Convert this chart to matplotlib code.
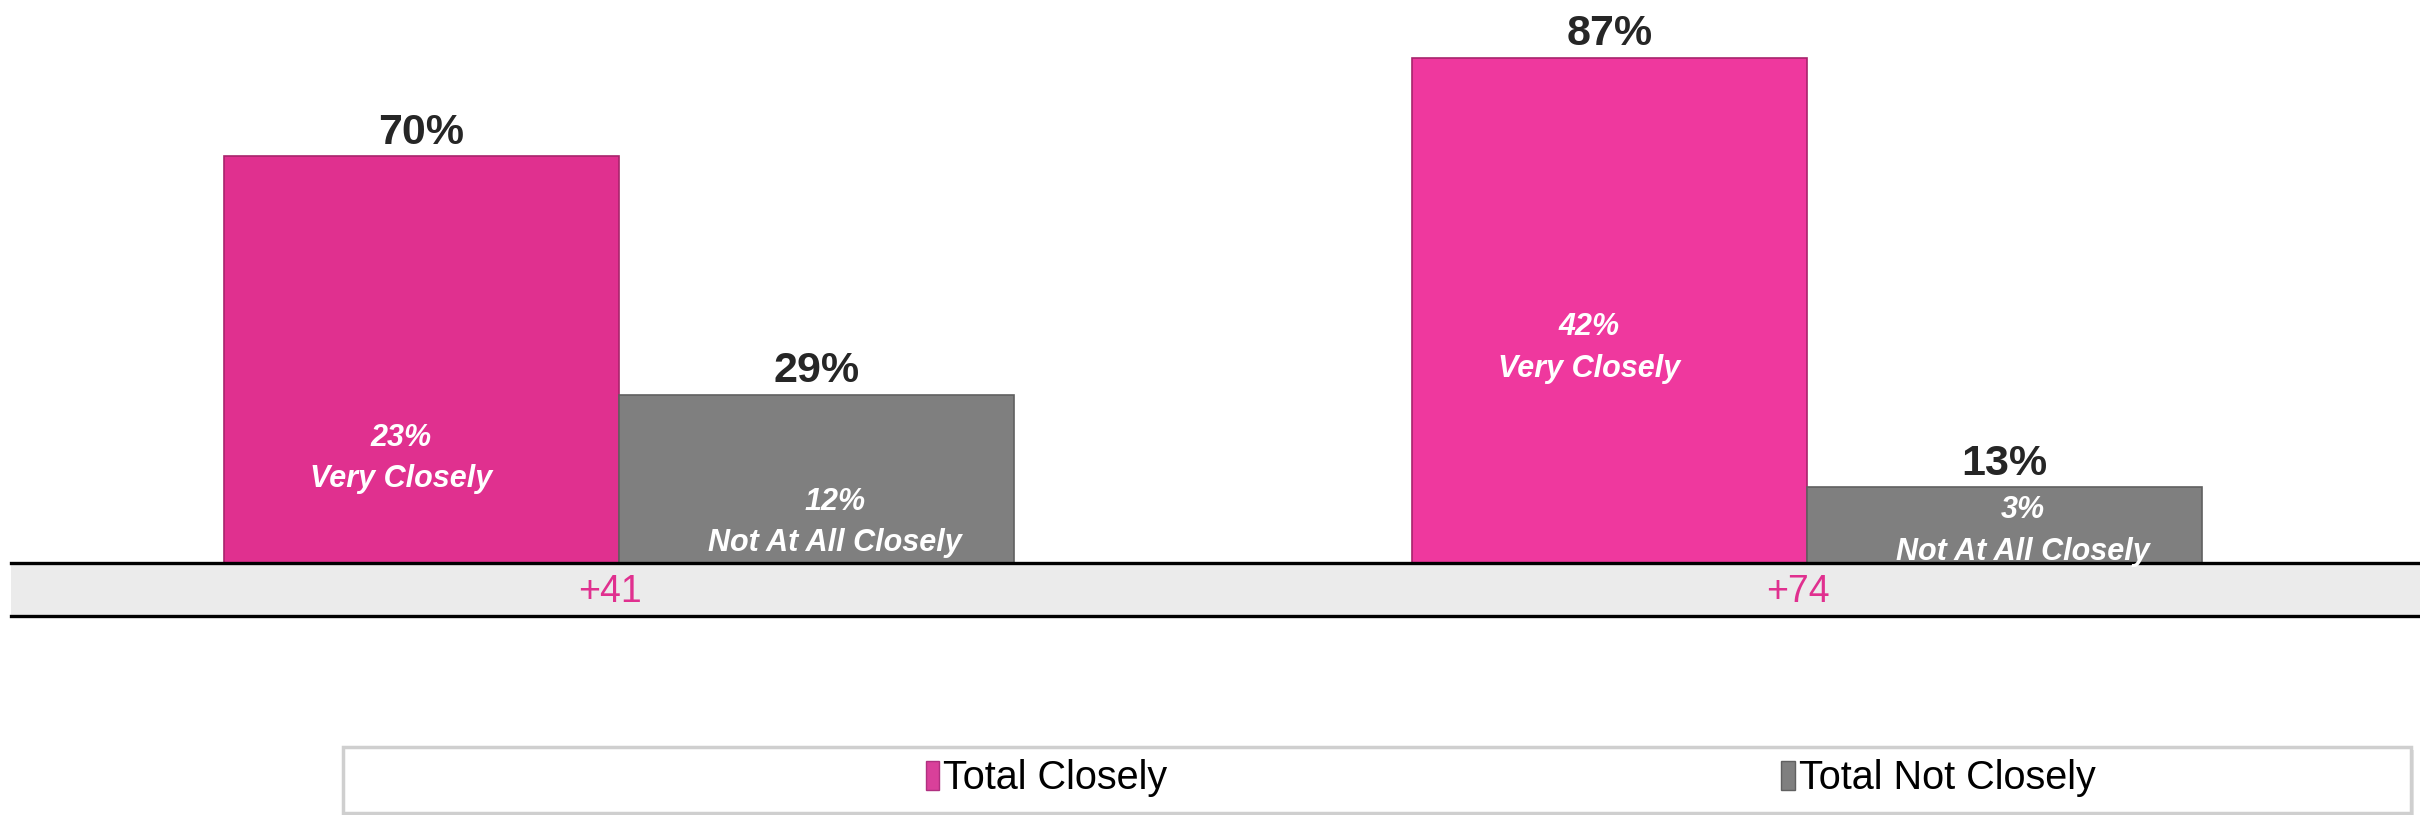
import numpy as np
import matplotlib.pyplot as plt
from matplotlib.patches import Rectangle, Patch
from matplotlib.lines import Line2D

# data
groups = ["Group 1", "Group 2"]
total_closely = [70, 87]
total_not_closely = [29, 13]
very_closely = [23, 42]
not_at_all_closely = [12, 3]
series_names = ["Total Closely", "Total Not Closely"]

pink = ["#e0308f", "#ef389e"]
grey = "#7f7f7f"

plt.rcParams["font.family"] = ["Liberation Sans", "DejaVu Sans"]

fig = plt.figure(figsize=(24.2, 8.15), dpi=100)
W, H = 2420, 815
ax = fig.add_axes([11 / W, (H - 563) / H, 2404 / W, 563 / H])

x = np.arange(len(groups))
w = 0.3325
b1 = ax.bar(x - w / 2, total_closely, w, color=pink, edgecolor="#a8246c",
            linewidth=1.2, zorder=2)
b2 = ax.bar(x + w / 2, total_not_closely, w, color=grey, edgecolor="#606060",
            linewidth=1.2, zorder=2)

ax.set_xlim(-0.5118, 1.5118)
ax.set_ylim(0, 96.9)
for s in ax.spines.values():
    s.set_visible(False)
ax.set_yticks([])
ax.set_xticks([])

# totals above bars
for bars, vals in ((b1, total_closely), (b2, total_not_closely)):
    for r, v in zip(bars, vals):
        ax.annotate(f"{v}%", xy=(r.get_x() + r.get_width() / 2, v),
                    xytext=(0, 9), textcoords="offset points",
                    ha="center", va="baseline", fontsize=31,
                    fontweight="bold", color="#262626", zorder=6)

# inner labels (first line sits at the sub-value height)
inner = [
    (b1[0], very_closely[0], "Very Closely", very_closely[0], -15),
    (b2[0], not_at_all_closely[0], "Not At All Closely", not_at_all_closely[0], 13),
    (b1[1], very_closely[1], "Very Closely", very_closely[1], -15),
    (b2[1], not_at_all_closely[1], "Not At All Closely", 10.5, 13),
]
for r, v, name, yy, dx in inner:
    cx = r.get_x() + r.get_width() / 2
    ax.annotate(f"{v}%", xy=(cx, yy), xytext=(dx, -6), textcoords="offset points",
                ha="center", va="center", fontsize=22, fontweight="bold",
                fontstyle="italic", color="white", zorder=6)
    ax.annotate(name, xy=(cx, yy), xytext=(dx, -36), textcoords="offset points",
                ha="center", va="center", fontsize=22, fontweight="bold",
                fontstyle="italic", color="white", zorder=6, annotation_clip=False)

# grey band with differences
band_h = 53 / 563
ax.add_patch(Rectangle((0, -band_h), 1.01, band_h, transform=ax.transAxes,
                       facecolor="#ebebeb", edgecolor="none", clip_on=False,
                       zorder=4))
for yb in (0, -band_h):
    ax.add_line(Line2D([0, 1.01], [yb, yb], transform=ax.transAxes,
                       color="black", linewidth=2.4, clip_on=False, zorder=5))
diffs = [a - b for a, b in zip(total_closely, total_not_closely)]
for xi, d in zip(x, diffs):
    ax.text(xi - 0.008, -band_h / 2 - 0.005, f"+{d}",
            transform=ax.get_xaxis_transform(), ha="center", va="center",
            fontsize=27, color="#e0308f", zorder=6)

# legend box
box = Rectangle((343 / W, (H - 813) / H), (2411 - 343) / W, 66 / H,
                transform=fig.transFigure, facecolor="white",
                edgecolor="#cfcfcf", linewidth=2.5, zorder=1)
shadow = Rectangle((346 / W, (H - 816) / H), (2411 - 343) / W, 66 / H,
                   transform=fig.transFigure, facecolor="#e6e6e6",
                   edgecolor="none", zorder=0.9)
fig.add_artist(shadow)
fig.add_artist(box)

handles = [Patch(facecolor="#d9409a", edgecolor="#b03080"),
           Patch(facecolor=grey, edgecolor="#606060")]
fig.legend(handles, series_names, loc="center left",
           bbox_to_anchor=(926 / W, (H - 778) / H), ncol=2, frameon=False,
           fontsize=28.5, handlelength=0.34, handleheight=0.75,
           handletextpad=0.1, columnspacing=15.5, borderpad=0,
           borderaxespad=0)

plt.savefig("out.png", dpi=100)
